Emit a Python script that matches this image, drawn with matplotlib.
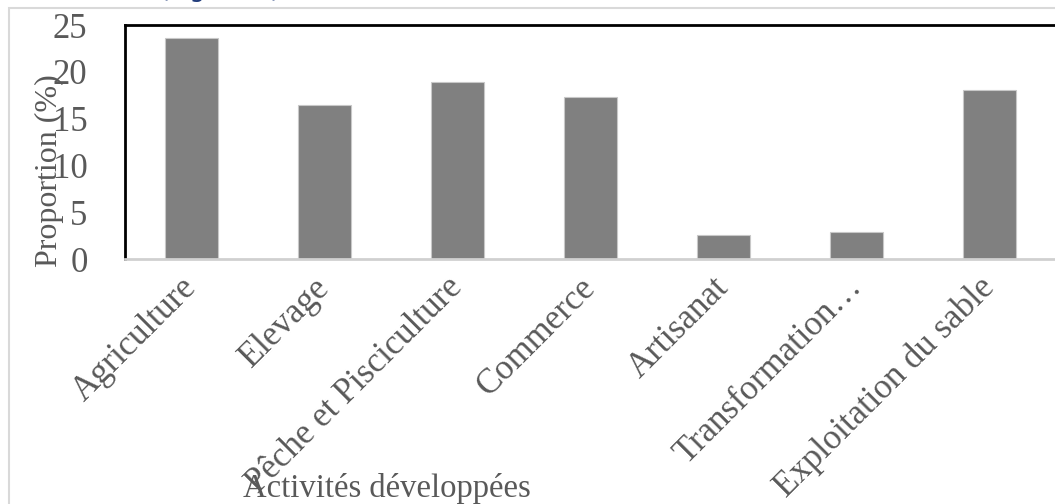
import matplotlib
matplotlib.use("Agg")
import matplotlib.pyplot as plt
from matplotlib.patches import Rectangle

# data
activites = ["Agriculture", "Elevage", "Pêche et Pisciculture", "Commerce",
             "Artisanat", "Transformation…", "Exploitation du sable"]
proportion = [23.6, 16.5, 18.9, 17.3, 2.6, 2.9, 18.1]
y_ticks = [0, 5, 10, 15, 20, 25]

W, H = 1055, 504
plt.rcParams["font.family"] = ["Liberation Serif", "DejaVu Serif"]
txt_col = "#595959"

fig = plt.figure(figsize=(W / 100, H / 100), dpi=100)

# light grey chart-area frame
fig.patches.append(Rectangle((9 / W, -0.1), 1.2, (H - 8) / H + 0.1,
                             transform=fig.transFigure, fill=False,
                             edgecolor="#d9d9d9", linewidth=1.5))

# bit of a blue caption that sticks in from above (only its bottom shows)
fig.text(160 / W, (H + 3) / H, "(Figure 2)", color="#1f3a7a", fontsize=18,
         family=["DejaVu Sans"], va="baseline")

ax = fig.add_axes([125 / W, (H - 259) / H, (1056 - 125) / W, 234 / H])
x = range(len(activites))
ax.bar(x, proportion, width=0.4, color="#808080", edgecolor="#c8c8c8", linewidth=0.8)

ax.set_xlim(-0.5, len(activites) - 0.5)
ax.set_ylim(0, 25)
ax.set_yticks(y_ticks)
ax.set_yticklabels([str(v) for v in y_ticks], fontsize=25, color=txt_col)
ax.tick_params(axis="y", length=0, pad=27)
ax.set_xticks(list(x))
ax.set_xticklabels(activites, rotation=45, ha="right", va="center",
                   rotation_mode="anchor", fontsize=25, color=txt_col)
ax.tick_params(axis="x", length=0, pad=17)

for s in ["top", "left", "right"]:
    ax.spines[s].set_color("black")
    ax.spines[s].set_linewidth(2)
ax.spines["bottom"].set_color("#d0d0d0")
ax.spines["bottom"].set_linewidth(2)

fig.text(49 / W, (H - 171) / H, "Proportion (%)", rotation=90, fontsize=23,
         color=txt_col, ha="center", va="center")
fig.text(243 / W, 7 / H, "Activités développées", fontsize=23.5, color=txt_col,
         ha="left", va="baseline")

fig.savefig("out.png", dpi=100)
